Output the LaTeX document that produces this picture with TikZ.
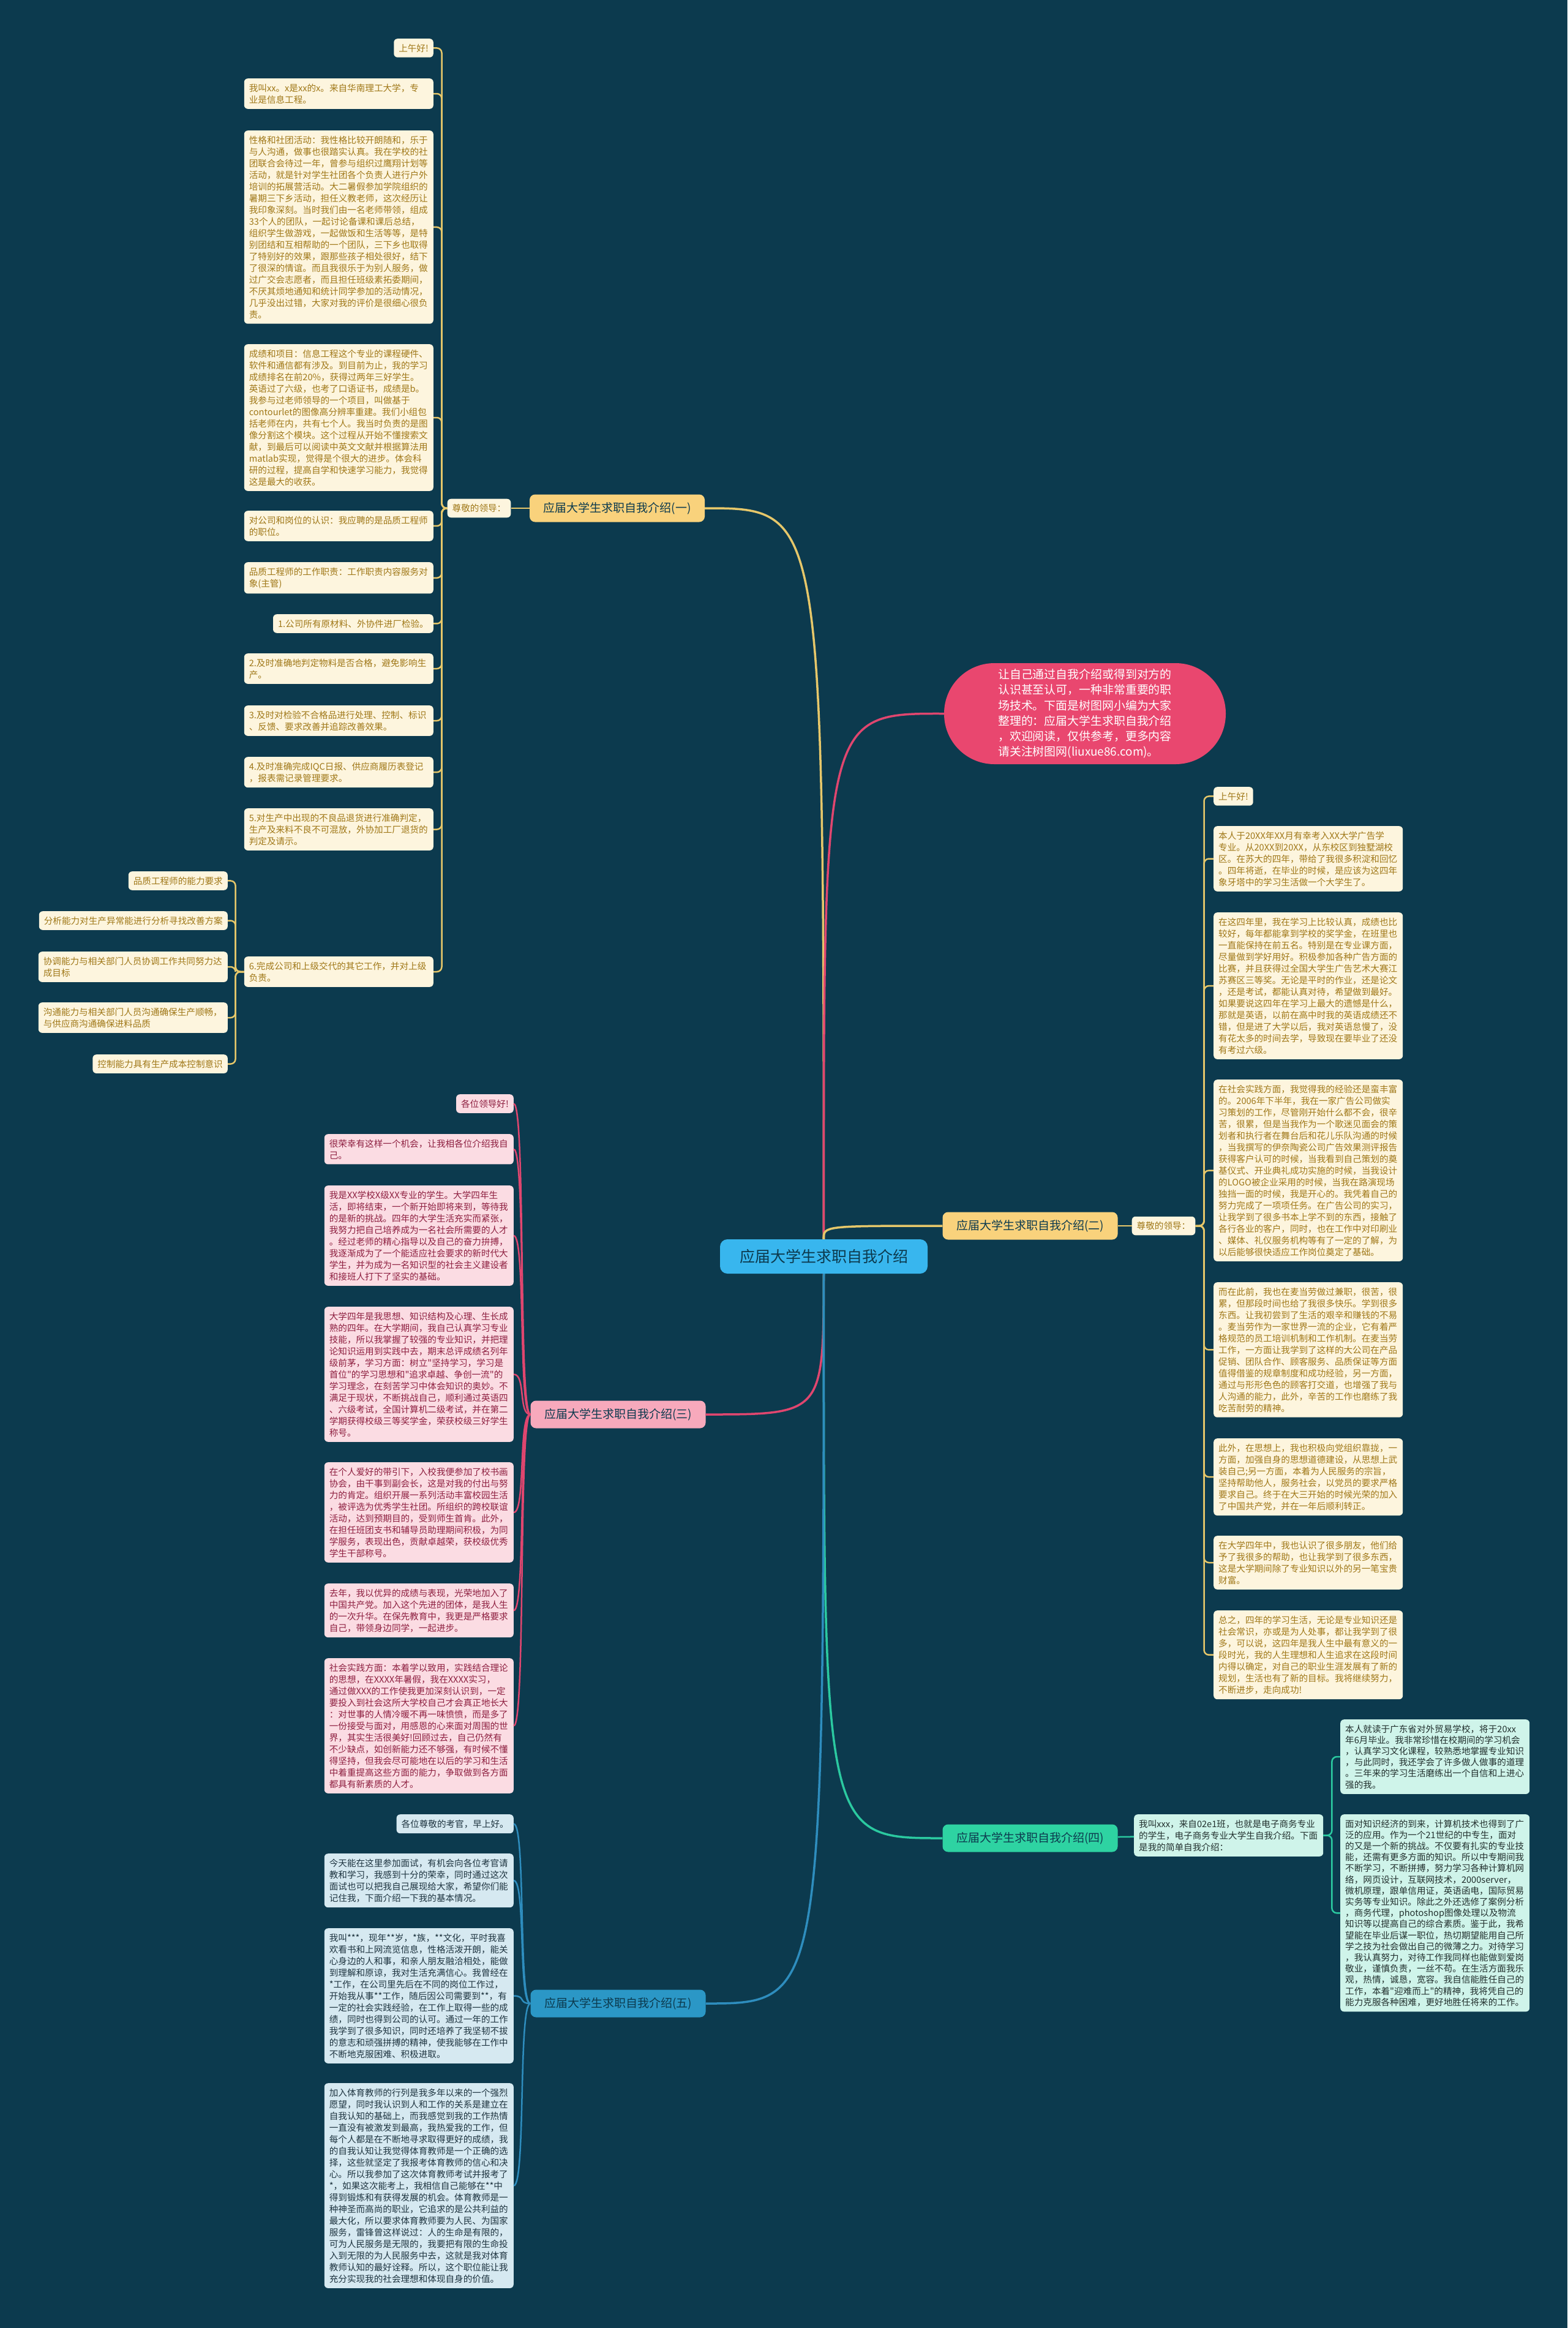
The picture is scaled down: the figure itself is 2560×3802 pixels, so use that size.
\documentclass[tikz,border=0pt]{standalone}
\usepackage{fontspec}
\newfontfamily\cjk{Noto Sans CJK SC}
\usetikzlibrary{calc}

\definecolor{bgcol}{HTML}{0C3A4E}
\definecolor{creamY}{HTML}{FDF5DE}
\definecolor{textY}{HTML}{A07818}
\definecolor{lineYc}{HTML}{E6C76A}
\definecolor{fillYb}{HTML}{F9D27C}
\definecolor{creamP}{HTML}{FBDCE3}
\definecolor{textP}{HTML}{8E1F40}
\definecolor{linePc}{HTML}{E0466F}
\definecolor{fillPb}{HTML}{F7A9BC}
\definecolor{creamG}{HTML}{CFF4EA}
\definecolor{textG}{HTML}{22302E}
\definecolor{lineGc}{HTML}{2BC9A0}
\definecolor{fillGb}{HTML}{2ED3A2}
\definecolor{creamB}{HTML}{D6E9F1}
\definecolor{textB}{HTML}{1E3440}
\definecolor{lineBc}{HTML}{2E8DBE}
\definecolor{fillBb}{HTML}{2B97C6}
\definecolor{ctrcol}{HTML}{38B6EE}
\definecolor{introcol}{HTML}{E9476F}

\tikzset{
  leaf/.style={
    rounded corners=6pt,
    inner xsep=8pt,
    inner ysep=8.5pt,
    align=left,
    font=\cjk\fontsize{14.6}{19}\selectfont
  },
  widebox/.style={text width=293pt},
  leafY/.style={leaf, fill=creamY, text=textY},
  leafP/.style={leaf, fill=creamP, text=textP},
  leafG/.style={leaf, fill=creamG, text=textG},
  leafB/.style={leaf, fill=creamB, text=textB},
  branch/.style={
    rounded corners=9pt,
    minimum width=286pt,
    minimum height=45pt,
    inner sep=0pt,
    font=\cjk\fontsize{19}{23}\selectfont
  },
  lineY/.style={draw=lineYc, line width=2.5pt, rounded corners=8pt},
  lineP/.style={draw=linePc, line width=2.5pt},
  lineG/.style={draw=lineGc, line width=2.5pt, rounded corners=8pt},
  lineB/.style={draw=lineBc, line width=2.5pt},
  mainY/.style={draw=lineYc, line width=3.5pt},
  mainP/.style={draw=linePc, line width=3.5pt},
  mainG/.style={draw=lineGc, line width=3.5pt},
  mainB/.style={draw=lineBc, line width=3.5pt}
}

\begin{document}
\begin{tikzpicture}[x=1pt, y=-1pt]

    \fill[bgcol] (0,0) rectangle (2560,3802);

    %-------------------------
    % 中心
    %-------------------------
    \node[rounded corners=12pt, fill=ctrcol, text=bgcol, minimum width=339pt,
          minimum height=56pt, font=\cjk\fontsize{25}{30}\selectfont] (ctr) at (1345.5,2052) {应届大学生求职自我介绍};

    \node[rounded corners=82pt, fill=introcol, text=white, minimum width=460pt,
          minimum height=165pt, align=left, font=\cjk\fontsize{18.9}{25.3}\selectfont] (intro) at (1772,1165.5)
      {让自己通过自我介绍或得到对方的\\认识甚至认可，一种非常重要的职\\场技术。下面是树图网小编为大家\\整理的：应届大学生求职自我介绍\\，欢迎阅读，仅供参考，更多内容\\请关注树图网(liuxue86.com)。};

    \node[branch, fill=fillYb, text=bgcol] (b1) at (1008,830) {应届大学生求职自我介绍(一)};
    \node[branch, fill=fillYb, text=bgcol] (b2) at (1682.5,2002) {应届大学生求职自我介绍(二)};
    \node[branch, fill=fillPb, text=bgcol] (b3) at (1009.5,2310) {应届大学生求职自我介绍(三)};
    \node[branch, fill=fillGb, text=bgcol] (b4) at (1682.5,3002) {应届大学生求职自我介绍(四)};
    \node[branch, fill=fillBb, text=bgcol] (b5) at (1009.5,3272) {应届大学生求职自我介绍(五)};

    \draw[mainY] (ctr) .. controls (1345,830) .. (b1.east);
    \draw[mainP] (ctr) .. controls (1345,1165) .. (intro.west);
    \draw[mainY] (ctr) .. controls (1345,2002) .. (b2.west);
    \draw[mainP] (ctr) .. controls (1345,2310) .. (b3.east);
    \draw[mainG] (ctr) .. controls (1345,3002) .. (b4.west);
    \draw[mainB] (ctr) .. controls (1345,3272) .. (b5.east);

    %-------------------------
    % (一)
    %-------------------------
    \node[leafY] (l1) at (782.5,830) {尊敬的领导：};
    \draw[lineY] (b1) -- (l1);

    \node[leafY, anchor=north east] (a1) at (708,63) {上午好!};
    \node[leafY, widebox, anchor=north east] (a2) at (708,128) {我叫xx。x是xx的x。来自华南理工大学，专\\业是信息工程。};
    \node[leafY, widebox, anchor=north east] (a3) at (708,213) {性格和社团活动：我性格比较开朗随和，乐于\\与人沟通，做事也很踏实认真。我在学校的社\\团联合会待过一年，曾参与组织过鹰翔计划等\\活动，就是针对学生社团各个负责人进行户外\\培训的拓展营活动。大二暑假参加学院组织的\\暑期三下乡活动，担任义教老师，这次经历让\\我印象深刻。当时我们由一名老师带领，组成\\33个人的团队，一起讨论备课和课后总结，\\组织学生做游戏，一起做饭和生活等等，是特\\别团结和互相帮助的一个团队，三下乡也取得\\了特别好的效果，跟那些孩子相处很好，结下\\了很深的情谊。而且我很乐于为别人服务，做\\过广交会志愿者，而且担任班级素拓委期间，\\不厌其烦地通知和统计同学参加的活动情况，\\几乎没出过错，大家对我的评价是很细心很负\\责。};
    \node[leafY, widebox, anchor=north east] (a4) at (708,562) {成绩和项目：信息工程这个专业的课程硬件、\\软件和通信都有涉及。到目前为止，我的学习\\成绩排名在前20\%，获得过两年三好学生。\\英语过了六级，也考了口语证书，成绩是b。\\我参与过老师领导的一个项目，叫做基于\\contourlet的图像高分辨率重建。我们小组包\\括老师在内，共有七个人。我当时负责的是图\\像分割这个模块。这个过程从开始不懂搜索文\\献，到最后可以阅读中英文文献并根据算法用\\matlab实现，觉得是个很大的进步。体会科\\研的过程，提高自学和快速学习能力，我觉得\\这是最大的收获。};
    \node[leafY, widebox, anchor=north east] (a5) at (708,834) {对公司和岗位的认识：我应聘的是品质工程师\\的职位。};
    \node[leafY, widebox, anchor=north east] (a6) at (708,918) {品质工程师的工作职责：工作职责内容服务对\\象(主管)};
    \node[leafY, anchor=north east] (a7) at (708,1003) {1.公司所有原材料、外协件进厂检验。};
    \node[leafY, widebox, anchor=north east] (a8) at (708,1067) {2.及时准确地判定物料是否合格，避免影响生\\产。};
    \node[leafY, widebox, anchor=north east] (a9) at (708,1152) {3.及时对检验不合格品进行处理、控制、标识\\、反馈、要求改善并追踪改善效果。};
    \node[leafY, widebox, anchor=north east] (a10) at (708,1236) {4.及时准确完成IQC日报、供应商履历表登记\\，报表需记录管理要求。};
    \node[leafY, widebox, anchor=north east] (a11) at (708,1320) {5.对生产中出现的不良品退货进行准确判定，\\生产及来料不良不可混放，外协加工厂退货的\\判定及请示。};
    \node[leafY, widebox, anchor=north east] (a12) at (708,1562) {6.完成公司和上级交代的其它工作，并对上级\\负责。};

    \foreach \n in {a1,a2,a3,a4,a5,a6,a7,a8,a9,a10,a11,a12}
      \draw[lineY] (l1.west) -- ++(-9,0) |- (\n.east);

    \node[leafY, anchor=north east] (d1) at (372,1423) {品质工程师的能力要求};
    \node[leafY, anchor=north east] (d2) at (372,1488) {分析能力对生产异常能进行分析寻找改善方案};
    \node[leafY, widebox, anchor=north east] (d3) at (372,1554) {协调能力与相关部门人员协调工作共同努力达\\成目标};
    \node[leafY, widebox, anchor=north east] (d4) at (372,1637) {沟通能力与相关部门人员沟通确保生产顺畅，\\与供应商沟通确保进料品质};
    \node[leafY, anchor=north east] (d5) at (372,1722) {控制能力具有生产成本控制意识};

    \foreach \n in {d1,d2,d3,d4,d5}
      \draw[lineY] (a12.west) -- ++(-14,0) |- (\n.east);

    %-------------------------
    % (二)
    %-------------------------
    \node[leafY] (l2) at (1900.5,2002) {尊敬的领导：};
    \draw[lineY] (b2) -- (l2);

    \node[leafY, anchor=north west] (e1) at (1982,1285) {上午好!};
    \node[leafY, widebox, anchor=north west] (e2) at (1982,1349) {本人于20XX年XX月有幸考入XX大学广告学\\专业。从20XX到20XX，从东校区到独墅湖校\\区。在苏大的四年，带给了我很多积淀和回忆\\。四年将逝，在毕业的时候，是应该为这四年\\象牙塔中的学习生活做一个大学生了。};
    \node[leafY, widebox, anchor=north west] (e3) at (1982,1490) {在这四年里，我在学习上比较认真，成绩也比\\较好，每年都能拿到学校的奖学金，在班里也\\一直能保持在前五名。特别是在专业课方面，\\尽量做到学好用好。积极参加各种广告方面的\\比赛，并且获得过全国大学生广告艺术大赛江\\苏赛区三等奖。无论是平时的作业，还是论文\\，还是考试，都能认真对待，希望做到最好。\\如果要说这四年在学习上最大的遗憾是什么，\\那就是英语，以前在高中时我的英语成绩还不\\错，但是进了大学以后，我对英语怠慢了，没\\有花太多的时间去学，导致现在要毕业了还没\\有考过六级。};
    \node[leafY, widebox, anchor=north west] (e4) at (1982,1763) {在社会实践方面，我觉得我的经验还是蛮丰富\\的。2006年下半年，我在一家广告公司做实\\习策划的工作，尽管刚开始什么都不会，很辛\\苦，很累，但是当我作为一个歌迷见面会的策\\划者和执行者在舞台后和花儿乐队沟通的时候\\，当我撰写的伊奈陶瓷公司广告效果测评报告\\获得客户认可的时候，当我看到自己策划的奠\\基仪式、开业典礼成功实施的时候，当我设计\\的LOGO被企业采用的时候，当我在路演现场\\独挡一面的时候，我是开心的。我凭着自己的\\努力完成了一项项任务。在广告公司的实习，\\让我学到了很多书本上学不到的东西，接触了\\各行各业的客户，同时，也在工作中对印刷业\\、媒体、礼仪服务机构等有了一定的了解，为\\以后能够很快适应工作岗位奠定了基础。};
    \node[leafY, widebox, anchor=north west] (e5) at (1982,2094) {而在此前，我也在麦当劳做过兼职，很苦，很\\累，但那段时间也给了我很多快乐。学到很多\\东西。让我初尝到了生活的艰辛和赚钱的不易\\。麦当劳作为一家世界一流的企业，它有着严\\格规范的员工培训机制和工作机制。在麦当劳\\工作，一方面让我学到了这样的大公司在产品\\促销、团队合作、顾客服务、品质保证等方面\\值得借鉴的规章制度和成功经验，另一方面，\\通过与形形色色的顾客打交道，也增强了我与\\人沟通的能力，此外，辛苦的工作也磨练了我\\吃苦耐劳的精神。};
    \node[leafY, widebox, anchor=north west] (e6) at (1982,2349) {此外，在思想上，我也积极向党组织靠拢，一\\方面，加强自身的思想道德建设，从思想上武\\装自己;另一方面，本着为人民服务的宗旨，\\坚持帮助他人，服务社会，以党员的要求严格\\要求自己。终于在大三开始的时候光荣的加入\\了中国共产党，并在一年后顺利转正。};
    \node[leafY, widebox, anchor=north west] (e7) at (1982,2508) {在大学四年中，我也认识了很多朋友，他们给\\予了我很多的帮助，也让我学到了很多东西，\\这是大学期间除了专业知识以外的另一笔宝贵\\财富。};
    \node[leafY, widebox, anchor=north west] (e8) at (1982,2630) {总之，四年的学习生活，无论是专业知识还是\\社会常识，亦或是为人处事，都让我学到了很\\多，可以说，这四年是我人生中最有意义的一\\段时光，我的人生理想和人生追求在这段时间\\内得以确定，对自己的职业生涯发展有了新的\\规划，生活也有了新的目标。我将继续努力，\\不断进步，走向成功!};

    \foreach \n in {e1,e2,e3,e4,e5,e6,e7,e8}
      \draw[lineY] (l2.east) -- ++(14,0) |- (\n.west);

    %-------------------------
    % (三)
    %-------------------------
    \node[leafP, anchor=north east] (f1) at (839,1787) {各位领导好!};
    \node[leafP, widebox, anchor=north east] (f2) at (839,1852) {很荣幸有这样一个机会，让我相各位介绍我自\\己。};
    \node[leafP, widebox, anchor=north east] (f3) at (839,1936) {我是XX学校X级XX专业的学生。大学四年生\\活，即将结束，一个新开始即将来到，等待我\\的是新的挑战。四年的大学生活充实而紧张，\\我努力把自己培养成为一名社会所需要的人才\\。经过老师的精心指导以及自己的奋力拚搏，\\我逐渐成为了一个能适应社会要求的新时代大\\学生，并为成为一名知识型的社会主义建设者\\和接班人打下了坚实的基础。};
    \node[leafP, widebox, anchor=north east] (f4) at (839,2134) {大学四年是我思想、知识结构及心理、生长成\\熟的四年。在大学期间，我自己认真学习专业\\技能，所以我掌握了较强的专业知识，并把理\\论知识运用到实践中去，期末总评成绩名列年\\级前茅，学习方面：树立"坚持学习，学习是\\首位"的学习思想和"追求卓越、争创一流"的\\学习理念，在刻苦学习中体会知识的奥妙。不\\满足于现状，不断挑战自己，顺利通过英语四\\、六级考试，全国计算机二级考试，并在第二\\学期获得校级三等奖学金，荣获校级三好学生\\称号。};
    \node[leafP, widebox, anchor=north east] (f5) at (839,2388) {在个人爱好的带引下，入校我便参加了校书画\\协会，由干事到副会长，这是对我的付出与努\\力的肯定。组织开展一系列活动丰富校园生活\\，被评选为优秀学生社团。所组织的跨校联谊\\活动，达到预期目的，受到师生首肯。此外，\\在担任班团支书和辅导员助理期间积极，为同\\学服务，表现出色，贡献卓越荣，获校级优秀\\学生干部称号。};
    \node[leafP, widebox, anchor=north east] (f6) at (839,2586) {去年，我以优异的成绩与表现，光荣地加入了\\中国共产党。加入这个先进的团体，是我人生\\的一次升华。在保先教育中，我更是严格要求\\自己，带领身边同学，一起进步。};
    \node[leafP, widebox, anchor=north east] (f7) at (839,2708) {社会实践方面：本着学以致用，实践结合理论\\的思想，在XXXX年暑假，我在XXXX实习，\\通过做XXX的工作使我更加深刻认识到，一定\\要投入到社会这所大学校自己才会真正地长大\\：对世事的人情冷暖不再一味愤愤，而是多了\\一份接受与面对，用感恩的心来面对周围的世\\界，其实生活很美好!回顾过去，自己仍然有\\不少缺点，如创新能力还不够强，有时候不懂\\得坚持，但我会尽可能地在以后的学习和生活\\中着重提高这些方面的能力，争取做到各方面\\都具有新素质的人才。};

    \foreach \n in {f1,f2,f3,f4,f5,f6,f7}
      \draw[lineP] (b3.west) .. controls +(-20,0) and +(20,0) .. (\n.east);

    %-------------------------
    % (四)
    %-------------------------
    \node[leafG, widebox, anchor=north west] (m1) at (1852,2963) {我叫xxx，来自02e1班，也就是电子商务专业\\的学生，电子商务专业大学生自我介绍。下面\\是我的简单自我介绍：};
    \draw[lineG] (b4) -- (m1);

    \node[leafG, widebox, anchor=north west, font=\cjk\fontsize{14.6}{18.2}\selectfont] (m2) at (2189,2808) {本人就读于广东省对外贸易学校，将于20xx\\年6月毕业。我非常珍惜在校期间的学习机会\\，认真学习文化课程，较熟悉地掌握专业知识\\，与此同时，我还学会了许多做人做事的道理\\。三年来的学习生活磨练出一个自信和上进心\\强的我。};
    \node[leafG, widebox, anchor=north west, font=\cjk\fontsize{14.6}{18.2}\selectfont] (m3) at (2189,2963) {面对知识经济的到来，计算机技术也得到了广\\泛的应用。作为一个21世纪的中专生，面对\\的又是一个新的挑战。不仅要有扎实的专业技\\能，还需有更多方面的知识。所以中专期间我\\不断学习，不断拼搏，努力学习各种计算机网\\络，网页设计，互联网技术，2000server，\\微机原理，跟单信用证，英语函电，国际贸易\\实务等专业知识。除此之外还选修了案例分析\\，商务代理，photoshop图像处理以及物流\\知识等以提高自己的综合素质。鉴于此，我希\\望能在毕业后谋一职位，热切期望能用自己所\\学之技为社会做出自己的微薄之力。对待学习\\，我认真努力，对待工作我同样也能做到爱岗\\敬业，谨慎负责，一丝不苟。在生活方面我乐\\观，热情，诚恳，宽容。我自信能胜任自己的\\工作，本着"迎难而上"的精神，我将凭自己的\\能力克服各种困难，更好地胜任将来的工作。};

    \foreach \n in {m2,m3}
      \draw[lineG] (m1.east) -- ++(14,0) |- (\n.west);

    %-------------------------
    % (五)
    %-------------------------
    \node[leafB, anchor=north east] (g1) at (839,2963) {各位尊敬的考官，早上好。};
    \node[leafB, widebox, anchor=north east] (g2) at (839,3027) {今天能在这里参加面试，有机会向各位考官请\\教和学习，我感到十分的荣幸，同时通过这次\\面试也可以把我自己展现给大家，希望你们能\\记住我，下面介绍一下我的基本情况。};
    \node[leafB, widebox, anchor=north east] (g3) at (839,3149) {我叫***，现年**岁，*族，**文化，平时我喜\\欢看书和上网流览信息，性格活泼开朗，能关\\心身边的人和事，和亲人朋友融洽相处，能做\\到理解和原谅，我对生活充满信心。我曾经在\\**工作，在公司里先后在不同的岗位工作过，\\开始我从事**工作，随后因公司需要到**，有\\一定的社会实践经验，在工作上取得一些的成\\绩，同时也得到公司的认可。通过一年的工作\\我学到了很多知识，同时还培养了我坚韧不拔\\的意志和顽强拼搏的精神，使我能够在工作中\\不断地克服困难、积极进取。};
    \node[leafB, widebox, anchor=north east] (g4) at (839,3402) {加入体育教师的行列是我多年以来的一个强烈\\愿望，同时我认识到人和工作的关系是建立在\\自我认知的基础上，而我感觉到我的工作热情\\一直没有被激发到最高，我热爱我的工作，但\\每个人都是在不断地寻求取得更好的成绩，我\\的自我认知让我觉得体育教师是一个正确的选\\择，这些就坚定了我报考体育教师的信心和决\\心。所以我参加了这次体育教师考试并报考了\\**，如果这次能考上，我相信自己能够在**中\\得到锻炼和有获得发展的机会。体育教师是一\\种神圣而高尚的职业，它追求的是公共利益的\\最大化，所以要求体育教师要为人民、为国家\\服务，雷锋曾这样说过：人的生命是有限的，\\可为人民服务是无限的，我要把有限的生命投\\入到无限的为人民服务中去，这就是我对体育\\教师认知的最好诠释。所以，这个职位能让我\\充分实现我的社会理想和体现自身的价值。};

    \foreach \n in {g1,g2,g3,g4}
      \draw[lineB] (b5.west) .. controls +(-20,0) and +(20,0) .. (\n.east);

\end{tikzpicture}
\end{document}
